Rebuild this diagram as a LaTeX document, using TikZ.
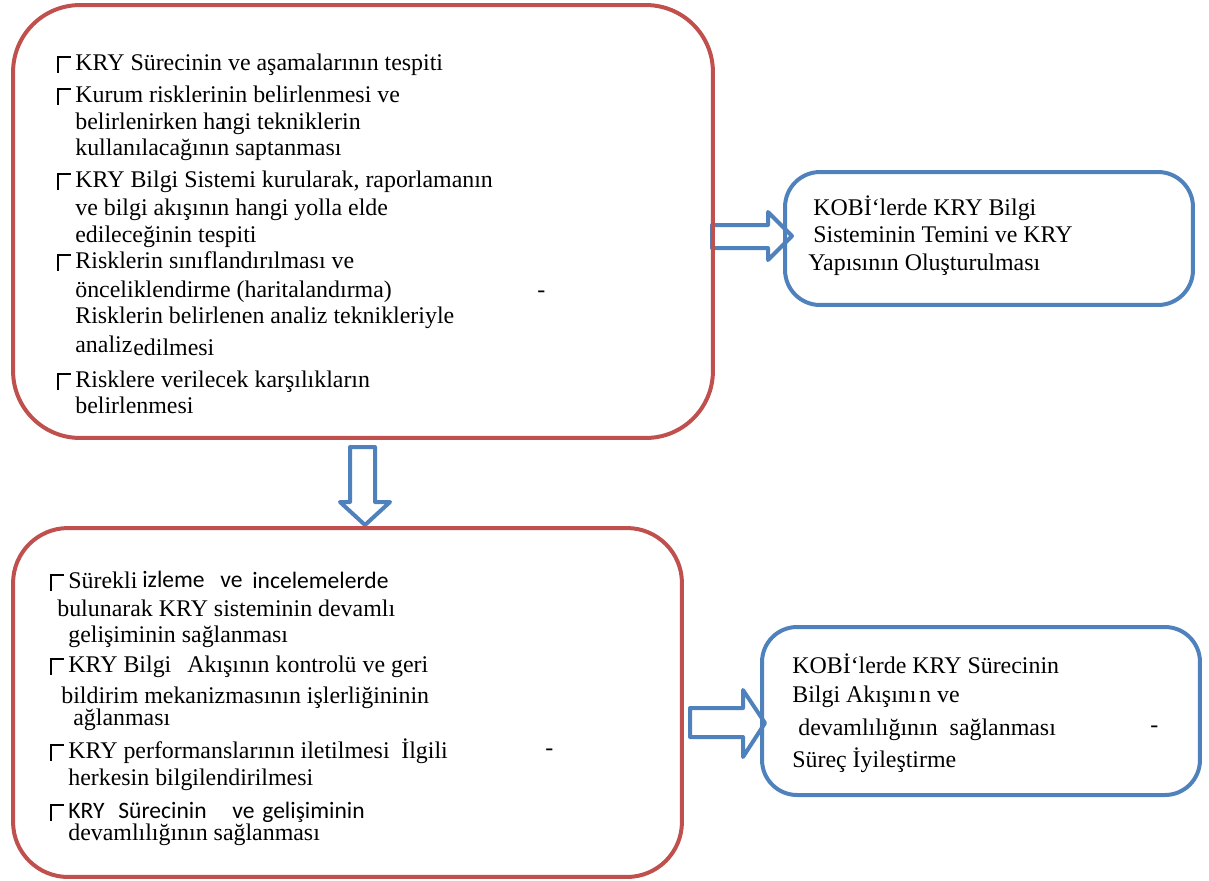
\documentclass[tikz,border=0pt]{standalone}
\usepackage{fontspec}
\setmainfont{Liberation Serif}
\newfontfamily\calib{Carlito}
\definecolor{boxred}{RGB}{192,80,77}
\definecolor{boxblue}{RGB}{79,129,189}
% broken bullet glyph of the original
\newcommand{\brk}{\raisebox{-1.8pt}{\rule{0.8pt}{9.6pt}}\raisebox{7.0pt}{\rule{7.2pt}{0.8pt}}\hspace{2.3pt}}

\begin{document}
\begin{tikzpicture}
	 [x=0.02cm,y=-0.02cm,
	  txt/.style={anchor=base west,inner sep=0pt,font=\fontsize{13.6}{16}\selectfont},
	  sans/.style={txt,font=\fontsize{13.4}{16}\calib},
	  redbox/.style={draw=boxred,line width=0.08cm,inner sep=0pt},
	  bluebox/.style={draw=boxblue,line width=0.08cm,inner sep=0pt,rounded corners=0.7cm},
	  blockarrow/.style={draw=boxblue,line width=0.08cm,fill=white,line join=round}]
	\useasboundingbox (0,0) rectangle (1209,880);

	% block arrows
	\coordinate (r1) at (712,225);
	\draw[blockarrow] (r1) -- (768,225) -- (768,212) -- (792,236) -- (768,260) -- (768,248) -- (712,248) -- cycle;
	\coordinate (d1) at (350,447);
	\draw[blockarrow] (d1) -- (375,447) -- (375,502) -- (390,502) -- (365,525) -- (340,502) -- (350,502) -- cycle;
	\coordinate (r2) at (690,708);
	\draw[blockarrow] (r2) -- (743,708) -- (743,690) -- (765,723) -- (743,757) -- (743,737) -- (690,737) -- cycle;

	% boxes
	\node[redbox,minimum width=14cm,minimum height=8.66cm,rounded corners=1.34cm] (risk) at (363,221.5) {};
	\node[redbox,minimum width=13.38cm,minimum height=6.98cm,rounded corners=1.1cm] (izle) at (347.5,702.5) {};
	\node[bluebox,minimum width=8.16cm,minimum height=2.66cm] (kobi1) at (989,238.5) {};
	\node[bluebox,minimum width=8.76cm,minimum height=3.36cm] (kobi2) at (981,711) {};

	% upper red box
	\node[txt] (t1) at (57,70) {\brk KRY Sürecinin ve aşamalarının tespiti};
	\node[txt] (t2) at (57,102) {\brk Kurum risklerinin belirlenmesi ve};
	\node[txt] (t3) at (75,129) {belirlenirken ha\kern-3pt ngi tekniklerin};
	\node[txt] (t4) at (75,155) {kullanılacağının saptanması};
	\node[txt] (t5) at (57,187) {\brk KRY Bilgi Sistemi kurularak, raporlamanın};
	\node[txt] (t6) at (75,215) {ve bilgi akışının hangi yolla elde};
	\node[txt] (t7) at (75,242) {edileceğinin tespiti};
	\node[txt] (t8) at (57,268) {\brk Risklerin sınıflandırılması ve};
	\node[txt] (t9) at (75,297) {önceliklendirme (haritalandırma)};
	\node[txt] (t10) at (75,323) {Risklerin belirlenen analiz teknikleriyle};
	\node[txt] (t11) at (75,352) {analiz};
	\node[txt] (t12) at (133,355) {edilmesi};
	\node[txt] (t13) at (57,387) {\brk Risklere verilecek karşılıkların};
	\node[txt] (t14) at (75,413) {belirlenmesi};
	\node[txt] (t15) at (537,297) {-};

	% lower red box
	\node[txt] (b1) at (50,588) {\brk Sürekli};
	\node[sans] (b2) at (142,587) {izleme};
	\node[sans] (b3) at (220,587) {ve};
	\node[sans] (b4) at (252,588) {incelemelerde};
	\node[txt] (b5) at (57,616) {bulunarak KRY sisteminin devamlı};
	\node[txt] (b6) at (68,642) {gelişiminin sağlanması};
	\node[txt] (b7) at (50,672) {\brk KRY Bilgi};
	\node[txt] (b8) at (187,672) {Akışının kontrolü ve geri};
	\node[txt] (b9) at (61,703) {bildirim mekanizmasının işlerliğininin};
	\node[txt] (b10) at (73,725) {ağlanması};
	\node[txt] (b11) at (50,758) {\brk KRY performanslarının iletilmesi};
	\node[txt] (b12) at (401,758) {İlgili};
	\node[txt] (b13) at (68,785) {herkesin bilgilendirilmesi};
	\node[txt] (b14) at (50,818) {\brk};
	\node[sans] (b15) at (68,818) {KRY};
	\node[sans] (b16) at (118,818) {Sürecinin};
	\node[sans] (b17) at (232,818) {ve};
	\node[sans] (b18) at (262,818) {gelişiminin};
	\node[txt] (b19) at (68,840) {devamlılığının sağlanması};
	\node[txt] (b20) at (545,755) {-};

	% blue boxes
	\node[txt] (k1) at (813,215) {KOBİ‘lerde KRY Bilgi};
	\node[txt] (k2) at (813,242) {Sisteminin Temini ve KRY};
	\node[txt] (k3) at (808,270) {Yapısının Oluşturulması};

	\node[txt] (s1) at (792,673) {KOBİ‘lerde KRY Sürecinin};
	\node[txt] (s2) at (792,702) {Bilgi Akışını\kern1.5pt n ve};
	\node[txt] (s3) at (798,735) {devamlılığının\ \ sağlanması};
	\node[txt] (s4) at (1150,732) {-};
	\node[txt] (s5) at (792,767) {Süreç İyileştirme};

\end{tikzpicture}
\end{document}
